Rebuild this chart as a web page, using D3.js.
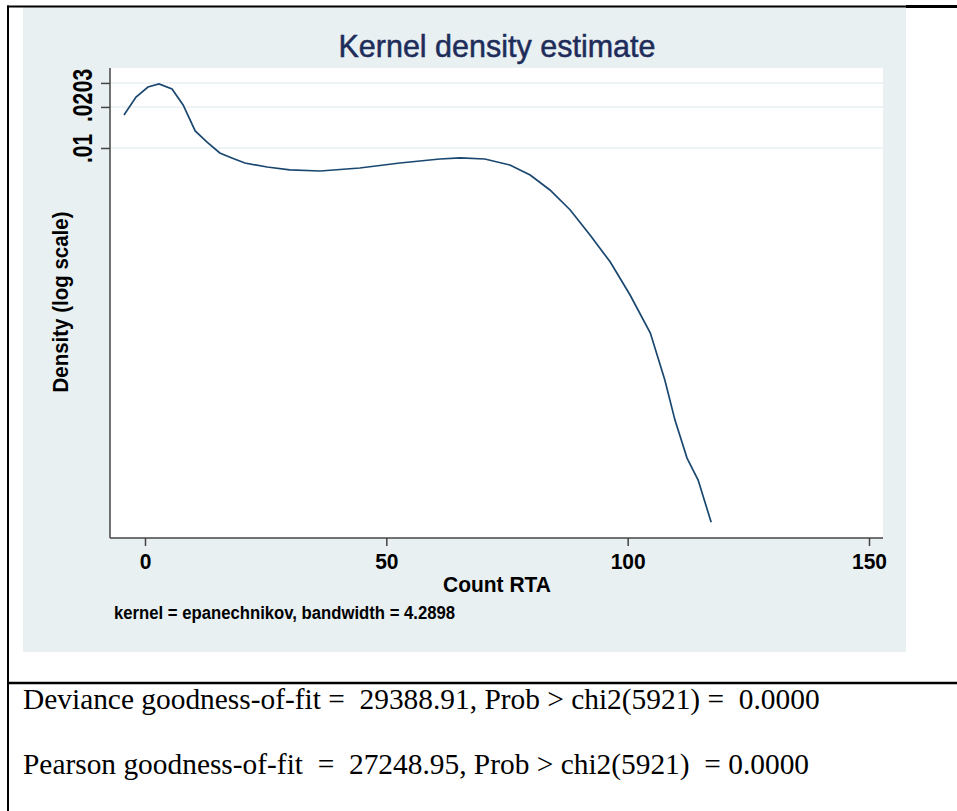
<!DOCTYPE html>
<html>
<head>
<meta charset="utf-8">
<script src="https://cdn.jsdelivr.net/npm/d3@7"></script>
<style>
  body { margin: 0; background: #fff; }
  text { white-space: pre; }
</style>
</head>
<body>
<div id="chart"></div>
<script>
(function() {

  // kernel density points (Count RTA, density)
  var countRTA = [-4.35, -1.86, 0.62, 2.9, 5.6, 7.9, 10.4, 12.8, 15.5, 18.0, 20.7, 25.3, 30.0, 36.3,
                  44.5, 52.8, 61.1, 65.3, 70.4, 75.6, 79.8, 83.9, 88.1, 92.2, 96.4, 100.5, 104.7,
                  107.7, 109.8, 112.3, 114.6, 117.3];
  var density = [0.01746, 0.02366, 0.0280, 0.0295, 0.0271, 0.0207, 0.01333, 0.01107, 0.00919, 0.00845,
                 0.00776, 0.00725, 0.00690, 0.00678, 0.00713, 0.00776, 0.00830, 0.00845, 0.00830,
                 0.00750, 0.00634, 0.00492, 0.00351, 0.00230, 0.001457, 0.000835, 0.000439,
                 0.000199, 0.000101, 0.0000532, 0.0000367, 0.0000180];

  var xTicks = [0, 50, 100, 150];
  var yTicks = [0.01, 0.02, 0.03];
  var yTickLabels = [".01", ".02", ".03"];

  var titleText = "Kernel density estimate",
      xTitle = "Count RTA",
      yTitle = "Density (log scale)",
      noteText = "kernel = epanechnikov, bandwidth = 4.2898",
      footLines = ["Deviance goodness-of-fit =  29388.91, Prob > chi2(5921) =  0.0000",
                   "Pearson goodness-of-fit  =  27248.95, Prob > chi2(5921)  = 0.0000"];

  var width = 957, height = 811;
  var plot = {left: 110, right: 883, top: 68, bottom: 538};
  var sans = "'Liberation Sans', Arial, sans-serif";

  var svg = d3.select("#chart").append("svg")
      .attr("width", width)
      .attr("height", height);

  // graph region background
  svg.append("rect")
      .attr("x", 23).attr("y", 7)
      .attr("width", 883).attr("height", 645)
      .attr("fill", "#e8f0f2");

  svg.append("rect")
      .attr("x", plot.left).attr("y", plot.top)
      .attr("width", plot.right - plot.left).attr("height", plot.bottom - plot.top)
      .attr("fill", "#fff");

  var x = d3.scaleLinear()
      .domain([-7.25, 152.9])
      .range([plot.left, plot.right]);

  var y = d3.scaleLog()
      .domain([1.38e-5, 0.0386])
      .range([plot.bottom, plot.top]);

  // grid
  svg.append("g").selectAll("line")
      .data(yTicks)
    .enter().append("line")
      .attr("x1", plot.left).attr("x2", plot.right)
      .attr("y1", d => y(d)).attr("y2", d => y(d))
      .attr("stroke", "#e8f0f2")
      .attr("stroke-width", 1.5);

  // curve
  var line = d3.line()
      .x((d, i) => x(countRTA[i]))
      .y(d => y(d));

  svg.append("path")
      .datum(density)
      .attr("d", line)
      .attr("fill", "none")
      .attr("stroke", "#1a476f")
      .attr("stroke-width", 1.7);

  // axes
  var xAxis = svg.append("g")
      .attr("transform", "translate(0," + plot.bottom + ")")
      .call(d3.axisBottom(x).tickValues(xTicks).tickSize(8).tickPadding(6).tickFormat(d3.format("d")));

  var yAxis = svg.append("g")
      .attr("transform", "translate(" + plot.left + ",0)")
      .call(d3.axisLeft(y).tickValues(yTicks).tickSize(9).tickFormat((d, i) => yTickLabels[i]));

  [xAxis, yAxis].forEach(function(g) {
    g.select(".domain").attr("stroke", "#444").attr("stroke-width", 1.5);
    g.selectAll(".tick line").attr("stroke", "#444").attr("stroke-width", 1.5);
    g.selectAll("text")
        .attr("fill", "#000")
        .style("font", "bold 21px " + sans);
  });

  xAxis.select(".domain").attr("d", "M" + plot.left + ",0H" + plot.right);
  yAxis.select(".domain").attr("d", "M0," + plot.bottom + "V" + plot.top);

  xAxis.selectAll(".tick text")
      .attr("transform", "scale(1,1.07)");

  yAxis.selectAll(".tick text")
      .attr("transform", function() {
        var ty = d3.select(this.parentNode).attr("transform");
        return "translate(-18,0) rotate(-90) scale(1,1.3)";
      })
      .attr("x", 0)
      .attr("y", 0)
      .attr("dy", 0)
      .attr("text-anchor", "middle");

  // titles
  svg.append("text")
      .attr("x", 497).attr("y", 57)
      .attr("text-anchor", "middle")
      .attr("fill", "#1e2c5a")
      .attr("stroke", "#1e2c5a")
      .attr("stroke-width", 0.5)
      .style("font", "30.5px " + sans)
      .text(titleText);

  svg.append("text")
      .attr("transform", "translate(497,592) scale(1,1.07)")
      .attr("text-anchor", "middle")
      .style("font", "bold 21px " + sans)
      .text(xTitle);

  svg.append("text")
      .attr("transform", "translate(68,302) rotate(-90) scale(1,1.12)")
      .attr("text-anchor", "middle")
      .style("font", "bold 20.5px " + sans)
      .text(yTitle);

  svg.append("text")
      .attr("transform", "translate(114,619) scale(1,1.08)")
      .style("font", "bold 16.7px " + sans)
      .text(noteText);

  // footer lines
  svg.selectAll(".foot")
      .data(footLines)
    .enter().append("text")
      .attr("class", "foot")
      .attr("x", 23)
      .attr("y", (d, i) => 709 + i * 65)
      .style("font", "29.4px 'Liberation Serif', 'Times New Roman', serif")
      .text(d => d);

  // frame lines
  var frame = svg.append("g").attr("stroke", "#000");
  frame.append("line").attr("x1", 7).attr("x2", 957).attr("y1", 6.5).attr("y2", 6.5).attr("stroke-width", 2);
  frame.append("line").attr("x1", 906).attr("x2", 957).attr("y1", 6.5).attr("y2", 6.5).attr("stroke-width", 3);
  frame.append("line").attr("x1", 8).attr("x2", 8).attr("y1", 5.5).attr("y2", 811).attr("stroke-width", 2);
  frame.append("line").attr("x1", 7).attr("x2", 957).attr("y1", 683).attr("y2", 683).attr("stroke-width", 2.5);

})();
</script>
</body>
</html>
